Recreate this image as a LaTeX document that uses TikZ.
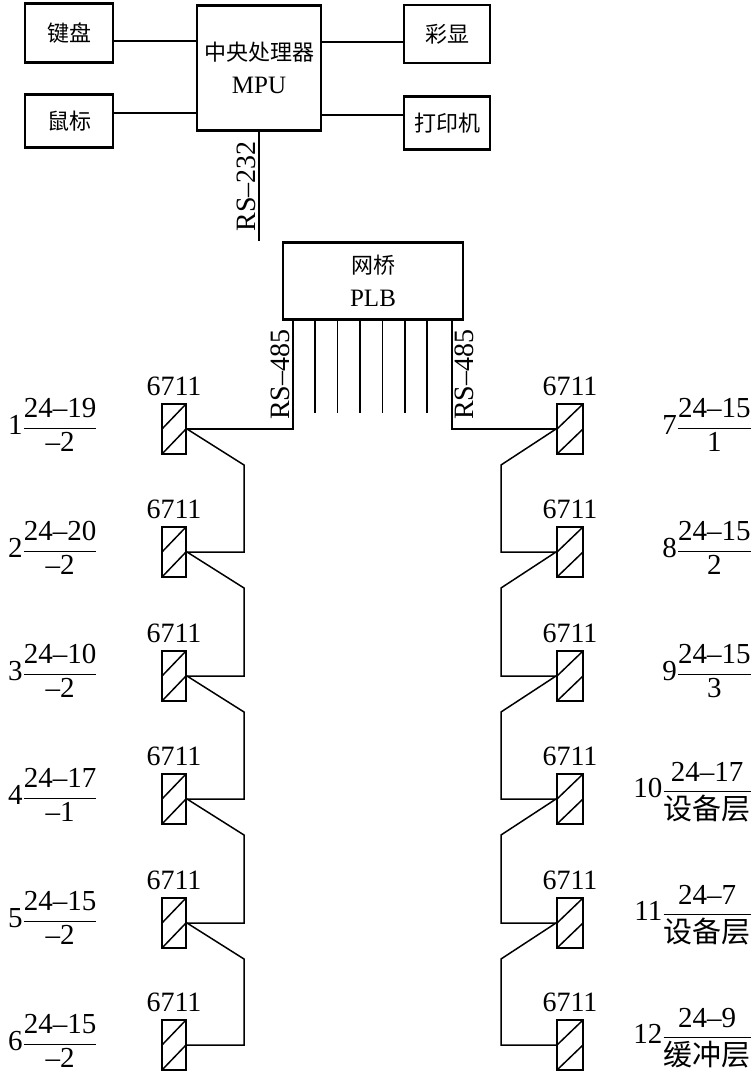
\documentclass[tikz,border=0pt]{standalone}
\usepackage{amsmath}
\usepackage{fontspec}
\setmainfont{Liberation Serif}
\newfontfamily\cjk{Noto Sans CJK SC}
\usetikzlibrary{positioning, calc}

\newcommand{\zh}[1]{{\cjk\fontsize{22}{33}\selectfont #1}}
\newcommand{\tagfrac}[3]{#1$\genfrac{}{}{1pt}{0}{\text{#2}}{\text{#3}}$}

\begin{document}
\begin{tikzpicture}[
    x=1pt, y=-1pt,
    unit/.style={rectangle, draw=black, line width=2.4pt, inner sep=0pt, align=center, font=\fontsize{25}{33}\selectfont},
    link/.style={line width=1.5pt},
    meter/.style={rectangle, draw=black, line width=2pt, inner sep=0pt, minimum width=24pt, minimum height=50pt,
        path picture={\draw[line width=1.5pt] (path picture bounding box.west) -- (path picture bounding box.north east);
                      \draw[line width=1.5pt] (path picture bounding box.south west) -- (path picture bounding box.east);}},
    tag/.style={inner sep=0pt, font=\fontsize{28}{30}\selectfont},
    bus/.style={rotate=90, inner sep=2pt, font=\fontsize{28}{30}\selectfont}
]
    \useasboundingbox (0,0) rectangle (753,1071);

    % host and peripherals
    \node (mpu) [unit, minimum width=124pt, minimum height=125pt] at (259,68) {\zh{中央处理器}\\MPU};
    \node (kbd) [unit, minimum width=88pt, minimum height=59pt] at (69,33) {\zh{键盘}};
    \node (mouse) [unit, minimum width=88pt, minimum height=53pt] at (69,121) {\zh{鼠标}};
    \node (disp) [unit, minimum width=86pt, minimum height=58pt] at (447,34) {\zh{彩显}};
    \node (prn) [unit, minimum width=86pt, minimum height=53pt] at (447,123) {\zh{打印机}};
    \node (plb) [unit, minimum width=180pt, minimum height=77pt] at (373,281) {\zh{网桥}\\PLB};

    \draw [link] (kbd.-10) -- (kbd.-10 -| mpu.west);
    \draw [link] (mouse.10) -- (mouse.10 -| mpu.west);
    \draw [link] (disp.190) -- (disp.190 -| mpu.east);
    \draw [link] (prn.170) -- (prn.170 -| mpu.east);
    \draw [link] (mpu.south) -- node[bus, midway, anchor=south] {RS--232} (mpu.south |- plb.north);

    % meters
    \foreach \i/\yy in {1/429,2/552,3/676,4/799,5/923,6/1045} {
        \node (d\i) [meter] at (174,\yy) {};
        \node (dt\i) [tag, above=7pt of d\i] {6711};
        \node (e\i) [meter, minimum width=26pt] at (570,\yy) {};
        \node (et\i) [tag, above=7pt of e\i] {6711};
    }

    % meter labels
    \begin{scope}[tag/.append style={font=\fontsize{29}{30}\selectfont}]
    \foreach \i/\yy/\a/\b in {1/425/24--19/--2, 2/548/24--20/--2, 3/671/24--10/--2,
                              4/795/24--17/--1, 5/918/24--15/--2, 6/1041/24--15/--2}
        \node (n\i) [tag, anchor=west] at (8,\yy) {\tagfrac{\i}{\a}{\b}};
    \node (n7) [tag, anchor=east] at (752,425) {\tagfrac{7}{24--15}{1}};
    \node (n8) [tag, anchor=east] at (752,548) {\tagfrac{8}{24--15}{2}};
    \node (n9) [tag, anchor=east] at (752,671) {\tagfrac{9}{24--15}{3}};
    \node (n10) [tag, anchor=east] at (752,792) {\tagfrac{10}{24--17}{\cjk 设备层}};
    \node (n11) [tag, anchor=east] at (752,915) {\tagfrac{11}{24--7}{\cjk 设备层}};
    \node (n12) [tag, anchor=east] at (752,1038) {\tagfrac{12}{24--9}{\cjk 缓冲层}};
    \end{scope}

    % bus lines
    \coordinate (pl) at ($(plb.south west)+(11,0)$);
    \coordinate (pr) at ($(plb.south east)+(-12,0)$);
    \draw [link] (pl) |- node[bus, pos=0.25, anchor=south] {RS--485} (d1.east);
    \draw [link] (pr) |- node[bus, pos=0.25, anchor=north] {RS--485} (e1.west);
    \foreach \k in {1,...,6}
        \draw [link] ($(pl)+(\k*22.4,0)$) -- ++(0,92);

    \foreach \i [count=\j from 2] in {1,...,5} {
        \draw [link] (d\i.east) -- ++(57,36) |- (d\j.east);
        \draw [link] (e\i.west) -- ++(-55,36) |- (e\j.west);
    }
\end{tikzpicture}
\end{document}
